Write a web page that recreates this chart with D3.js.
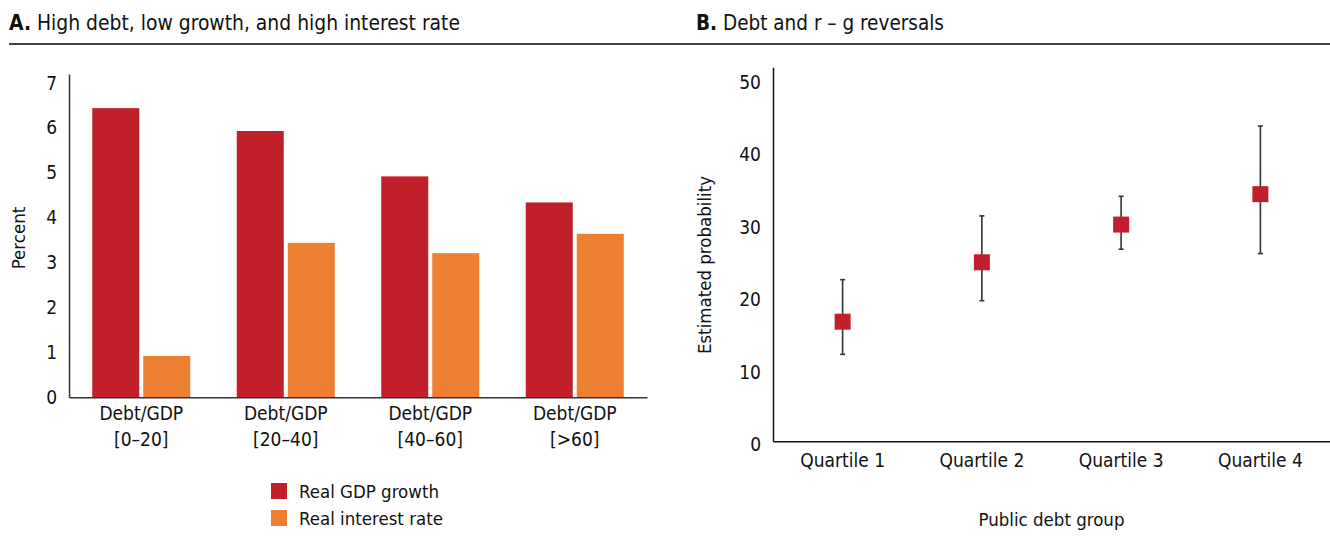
<!DOCTYPE html>
<html>
<head>
<meta charset="utf-8">
<script src="https://cdn.jsdelivr.net/npm/d3@7"></script>
<style>
  html, body { margin: 0; padding: 0; background: #fff; }
  svg { display: block; font-family: "DejaVu Sans Condensed", "DejaVu Sans", sans-serif; font-stretch: condensed; }
  svg text { font-family: "DejaVu Sans Condensed", "DejaVu Sans", sans-serif; font-stretch: condensed; }
</style>
</head>
<body>
<svg id="chart" width="1330" height="540"></svg>
<script>
// ---- Panel A data ----
const catLine1 = ["Debt/GDP", "Debt/GDP", "Debt/GDP", "Debt/GDP"];
const catLine2 = ["[0–20]", "[20–40]", "[40–60]", "[>60]"];
const seriesNames = ["Real GDP growth", "Real interest rate"];
const growth = [6.44, 5.93, 4.92, 4.34];
const interest = [0.92, 3.44, 3.21, 3.64];
const ticksA = [0, 1, 2, 3, 4, 5, 6, 7];

// ---- Panel B data ----
const quartiles = ["Quartile 1", "Quartile 2", "Quartile 3", "Quartile 4"];
const prob = [16.5, 24.7, 29.9, 34.1];
const probLow = [12.0, 19.4, 26.5, 25.9];
const probHigh = [22.3, 31.1, 33.8, 43.5];
const ticksB = [0, 10, 20, 30, 40, 50];

const RED = "#C1202A", ORANGE = "#ED7F32", INK = "#111";
const FS = 19;   // label font size
const svg = d3.select("#chart");

// ---- Titles & rule ----
function title(x, bold, rest, len) {
  const t = svg.append("text").attr("x", x).attr("y", 30)
    .attr("font-size", 21).attr("fill", INK)
    .attr("textLength", len).attr("lengthAdjust", "spacingAndGlyphs");
  t.append("tspan").attr("font-weight", "bold").text(bold);
  t.append("tspan").text(rest);
}
title(9, "A.", " High debt, low growth, and high interest rate", 451);
title(696, "B.", " Debt and r – g reversals", 248);
svg.append("line").attr("x1", 9).attr("x2", 1330).attr("y1", 44).attr("y2", 44)
  .attr("stroke", "#444").attr("stroke-width", 2);

// ---- Panel A ----
const cats = catLine2;
const xA = d3.scaleBand().domain(cats).range([69, 647]).paddingInner(0.3218).paddingOuter(0.1609);
const xSub = d3.scaleBand().domain(seriesNames).range([0, xA.bandwidth()]).paddingInner(4 / 51).paddingOuter(0);
const yA = d3.scaleLinear().domain([0, 7.2]).range([397.3, 74]);
const colorA = d3.scaleOrdinal().domain(seriesNames).range([RED, ORANGE]);

const gA = svg.append("g");
const groups = gA.selectAll("g.grp").data(cats).join("g")
  .attr("transform", d => `translate(${xA(d)},0)`);
groups.selectAll("rect").data((d, i) => [
    { s: seriesNames[0], v: growth[i] },
    { s: seriesNames[1], v: interest[i] }])
  .join("rect")
  .attr("x", d => xSub(d.s)).attr("width", xSub.bandwidth())
  .attr("y", d => yA(d.v)).attr("height", d => yA(0) - yA(d.v))
  .attr("fill", d => colorA(d.s));

const axA = gA.append("g").attr("transform", "translate(69,0)")
  .call(d3.axisLeft(yA).tickValues(ticksA).tickSize(0).tickSizeOuter(0).tickPadding(12));
axA.select(".domain").attr("stroke", "#333").attr("stroke-width", 1.5);
axA.selectAll("text").attr("font-size", FS).attr("fill", INK).attr("font-family", null);

const bxA = gA.append("g").attr("transform", `translate(0,${yA(0)})`)
  .call(d3.axisBottom(xA).tickSize(0).tickSizeOuter(0).tickFormat(""));
bxA.select(".domain").attr("stroke", "#333").attr("stroke-width", 1.5);
bxA.selectAll(".tick text").remove();
bxA.selectAll(".tick").each(function(d, i) {
  const t = d3.select(this).append("text").attr("text-anchor", "middle")
    .attr("font-size", FS).attr("fill", INK);
  t.append("tspan").attr("x", 0).attr("y", 23).text(catLine1[i]);
  t.append("tspan").attr("x", 0).attr("y", 49).text(catLine2[i]);
});

gA.append("text").attr("transform", "translate(25,238) rotate(-90)")
  .attr("text-anchor", "middle").attr("font-size", 18.5).attr("fill", INK).text("Percent");

// Legend
const legA = gA.append("g").attr("transform", "translate(271,483)");
seriesNames.forEach((s, i) => {
  const r = legA.append("g").attr("transform", `translate(0,${i * 27})`);
  r.append("rect").attr("width", 16).attr("height", 16).attr("fill", colorA(s));
  r.append("text").attr("x", 28).attr("y", 15).attr("font-size", 18.5).attr("fill", INK).text(s);
});

// ---- Panel B ----
const xB = d3.scaleBand().domain(quartiles).range([773, 1330]).padding(0);
const yB = d3.scaleLinear().domain([0, 51.6]).range([441.3, 67.3]);
const gB = svg.append("g");

const axB = gB.append("g").attr("transform", "translate(773,0)")
  .call(d3.axisLeft(yB).tickValues(ticksB).tickSize(0).tickSizeOuter(0).tickPadding(12));
axB.select(".domain").attr("stroke", "#111").attr("stroke-width", 1.5);
axB.selectAll("text").attr("font-size", FS).attr("fill", INK).attr("font-family", null)
  .attr("transform", "translate(0,3.5)");

const bxB = gB.append("g").attr("transform", `translate(0,${yB(0)})`)
  .call(d3.axisBottom(xB).tickSize(0).tickSizeOuter(0).tickPadding(12));
bxB.select(".domain").attr("stroke", "#111").attr("stroke-width", 1.5);
bxB.selectAll("text").attr("font-size", FS).attr("fill", INK).attr("font-family", null);

const pts = quartiles.map((q, i) => ({ q, v: prob[i], lo: probLow[i], hi: probHigh[i] }));
const cx = d => xB(d.q) + xB.bandwidth() / 2;
const eb = gB.selectAll("g.eb").data(pts).join("g");
eb.append("line").attr("x1", cx).attr("x2", cx).attr("y1", d => yB(d.lo)).attr("y2", d => yB(d.hi))
  .attr("stroke", "#333").attr("stroke-width", 1.6);
eb.append("line").attr("x1", d => cx(d) - 2.5).attr("x2", d => cx(d) + 2.5)
  .attr("y1", d => yB(d.lo)).attr("y2", d => yB(d.lo)).attr("stroke", "#333").attr("stroke-width", 1.6);
eb.append("line").attr("x1", d => cx(d) - 2.5).attr("x2", d => cx(d) + 2.5)
  .attr("y1", d => yB(d.hi)).attr("y2", d => yB(d.hi)).attr("stroke", "#333").attr("stroke-width", 1.6);
eb.append("rect").attr("x", d => cx(d) - 8).attr("y", d => yB(d.v) - 8)
  .attr("width", 16).attr("height", 16).attr("fill", RED);

gB.append("text").attr("transform", "translate(711,265) rotate(-90)")
  .attr("text-anchor", "middle").attr("font-size", 18.5).attr("fill", INK).text("Estimated probability");
gB.append("text").attr("x", (773 + 1330) / 2).attr("y", 526)
  .attr("text-anchor", "middle").attr("font-size", 18.5).attr("fill", INK).text("Public debt group");
</script>
</body>
</html>
